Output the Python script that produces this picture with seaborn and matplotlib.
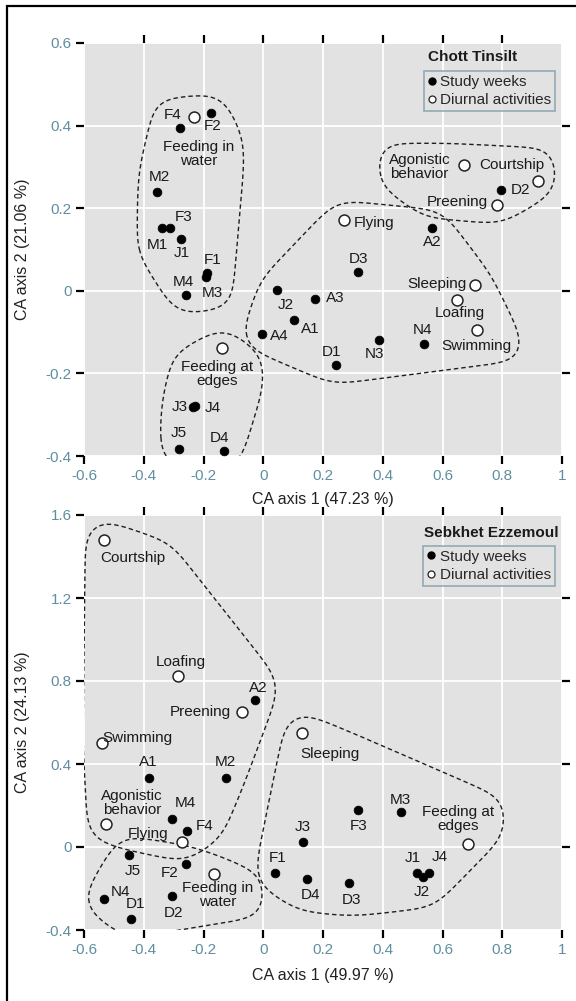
import numpy as np
import pandas as pd
import matplotlib
matplotlib.use("Agg")
import matplotlib.pyplot as plt
import seaborn as sns
from matplotlib.lines import Line2D
from matplotlib.patches import Rectangle

# ---------------- Data: Chott Tinsilt ----------------
ct_week_labels = ["F4", "F2", "M2", "M1", "F3", "J1", "F1", "M3", "M4", "J2", "A3", "A1",
                  "A4", "D3", "D1", "N3", "N4", "A2", "D2", "J3", "J4", "J5", "D4"]
ct_week_x = [-0.278, -0.176, -0.357, -0.340, -0.312, -0.274, -0.188, -0.192, -0.258, 0.045,
             0.174, 0.104, -0.005, 0.317, 0.242, 0.387, 0.539, 0.566, 0.795, -0.235, -0.229,
             -0.281, -0.131]
ct_week_y = [0.393, 0.430, 0.240, 0.153, 0.151, 0.126, 0.044, 0.034, -0.010, 0.002,
             -0.019, -0.071, -0.104, 0.046, -0.180, -0.118, -0.128, 0.151, 0.244, -0.282,
             -0.278, -0.382, -0.389]
ct_act_labels = ["Feeding in\nwater", "Agonistic\nbehavior", "Courtship", "Preening", "Flying",
                 "Sleeping", "Loafing", "Swimming", "Feeding at\nedges"]
ct_act_x = [-0.231, 0.673, 0.919, 0.783, 0.270, 0.709, 0.649, 0.717, -0.137]
ct_act_y = [0.420, 0.304, 0.266, 0.208, 0.172, 0.014, -0.023, -0.094, -0.139]
ct_groups = [
    ["F4", "F2", "Feeding in\nwater", "M2", "M1", "F3", "J1", "F1", "M3", "M4"],
    ["Agonistic\nbehavior", "Courtship", "D2", "Preening"],
    ["Flying", "A2", "D3", "J2", "A3", "A1", "A4", "D1", "N3", "N4", "Sleeping", "Loafing", "Swimming"],
    ["Feeding at\nedges", "J3", "J4", "J5", "D4"],
]

# ---------------- Data: Sebkhet Ezzemoul ----------------
se_week_labels = ["A2", "A1", "M2", "M4", "F4", "J5", "F2", "N4", "D2", "D1", "J3", "F1",
                  "D4", "D3", "F3", "M3", "J1", "J2", "J4"]
se_week_x = [-0.027, -0.383, -0.124, -0.304, -0.255, -0.448, -0.260, -0.534, -0.305, -0.444,
             0.134, 0.038, 0.145, 0.288, 0.317, 0.461, 0.513, 0.535, 0.556]
se_week_y = [0.708, 0.334, 0.334, 0.135, 0.079, -0.040, -0.084, -0.251, -0.236, -0.346,
             0.023, -0.127, -0.156, -0.172, 0.178, 0.170, -0.127, -0.143, -0.124]
se_act_labels = ["Courtship", "Loafing", "Preening", "Swimming", "Sleeping", "Agonistic\nbehavior",
                 "Flying", "Feeding in\nwater", "Feeding at\nedges"]
se_act_x = [-0.532, -0.284, -0.070, -0.540, 0.131, -0.526, -0.272, -0.166, 0.687]
se_act_y = [1.480, 0.824, 0.649, 0.500, 0.551, 0.109, 0.023, -0.130, 0.014]
se_groups = [
    ["Courtship", "Loafing", "A2", "Preening", "Swimming", "A1", "M2", "Agonistic\nbehavior",
     "M4", "F4", "Flying"],
    ["J5", "F2", "Feeding in\nwater", "N4", "D1", "D2"],
    ["Sleeping", "J3", "F1", "D4", "D3", "F3", "M3", "Feeding at\nedges", "J1", "J2", "J4"],
]

x_ticks = [-0.6, -0.4, -0.2, 0, 0.2, 0.4, 0.6, 0.8, 1.0]
ct_y_ticks = [-0.4, -0.2, 0, 0.2, 0.4, 0.6]
se_y_ticks = [-0.4, 0, 0.4, 0.8, 1.2, 1.6]

# label offsets in pixels (dx right, dy up) -- styling only
ct_offsets = {
    "F4": (-8, 13), "F2": (2, -13), "Feeding in\nwater": (4, -37), "M2": (3, 15),
    "M1": (-4, -17), "F3": (14, 11), "J1": (0, -14), "F1": (6, 13), "M3": (6, -16),
    "M4": (-3, 13), "J2": (9, -15), "A3": (20, 1), "A1": (16, -9), "A4": (18, -2),
    "D3": (1, 13), "D1": (-4, 13), "N3": (-4, -14), "N4": (-2, 14), "Sleeping": (-38, 1),
    "Loafing": (3, -13), "Swimming": (-1, -16), "Feeding at\nedges": (-5, -26),
    "J3": (-13, 0), "J4": (18, -2), "J5": (-1, 16), "D4": (-5, 13),
    "Agonistic\nbehavior": (-45, -2), "Courtship": (-26, 16), "D2": (20, 0),
    "Preening": (-40, 3), "Flying": (30, -3), "A2": (0, -14),
}
se_offsets = {
    "Courtship": (28, -18), "Loafing": (2, 14), "A2": (3, 12), "Preening": (-42, 0),
    "Swimming": (35, 5), "Sleeping": (28, -21), "A1": (-1, 16), "M2": (-1, 16),
    "Agonistic\nbehavior": (26, 21), "M4": (13, 16), "F4": (18, 5), "Flying": (-34, 8),
    "J5": (3, -16), "F2": (-16, -9), "Feeding in\nwater": (4, -21), "N4": (17, 7),
    "D2": (1, -17), "D1": (5, 15), "J3": (-1, 15), "F1": (3, 15), "D4": (4, -16),
    "D3": (2, -17), "F3": (1, -16), "M3": (-1, 12), "Feeding at\nedges": (-10, 25),
    "J1": (-4, 15), "J2": (-1, -15), "J4": (10, 16),
}

sns.set_style("darkgrid", {"axes.facecolor": "#e2e2e2", "grid.color": "white"})
plt.rcParams["font.family"] = ["Liberation Sans", "DejaVu Sans"]
plt.rcParams["axes.unicode_minus"] = False

TICKCOL = "#5f8ea0"
W, H = 576, 1001
fig = plt.figure(figsize=(W / 100, H / 100), dpi=100)
fig.patch.set_facecolor("white")
ax1 = fig.add_axes([84 / W, 1 - 456 / H, 478 / W, 413 / H])
ax2 = fig.add_axes([84 / W, 1 - 930 / H, 478 / W, 415 / H])


def fmt(v):
    s = f"{v:.1f}"
    if s.endswith(".0"):
        s = s[:-2]
    if s == "-0":
        s = "0"
    return s


def panel(ax, wl, wx, wy, al, axx, ay, yt, xlabel, ylabel, title, offsets, ylab_pos, xlab_pos, leg_anchor, title_pos):
    wk = pd.DataFrame({"x": wx, "y": wy, "label": wl})
    ac = pd.DataFrame({"x": axx, "y": ay, "label": al})
    sns.scatterplot(data=wk, x="x", y="y", ax=ax, color="black", edgecolor="black",
                    s=40, linewidth=0.5, zorder=5, legend=False)
    sns.scatterplot(data=ac, x="x", y="y", ax=ax, color="white", edgecolor="#222222",
                    s=62, linewidth=1.1, zorder=5, legend=False)
    ax.set_xlim(-0.6, 1.0)
    ax.set_ylim(yt[0], yt[-1])
    ax.set_xticks(x_ticks)
    ax.set_xticklabels([fmt(v) for v in x_ticks])
    ax.set_yticks(yt)
    ax.set_yticklabels([fmt(v) for v in yt])
    ax.grid(True, color="white", linewidth=1.3)
    for s in ax.spines.values():
        s.set_visible(False)
    ax.tick_params(axis="both", direction="out", length=6, width=1.6, color="black",
                   labelcolor=TICKCOL, labelsize=11, pad=3, bottom=True, left=True)
    sec_x = ax.secondary_xaxis("top")
    sec_x.set_xticks(x_ticks[1:-1])
    sec_x.set_xticklabels([])
    sec_x.tick_params(direction="out", length=6, width=1.6, color="black")
    sec_y = ax.secondary_yaxis("right")
    sec_y.set_yticks(yt[1:-1])
    sec_y.set_yticklabels([])
    sec_y.tick_params(direction="out", length=6, width=1.6, color="black")
    for sa in (sec_x, sec_y):
        for s in sa.spines.values():
            s.set_visible(False)
    ax.set_xlabel(xlabel, fontsize=11.5, color="#222222")
    ax.set_ylabel(ylabel, fontsize=11.5, color="#222222")
    ax.xaxis.set_label_coords(0.5, xlab_pos)
    ax.yaxis.set_label_coords(ylab_pos, 0.5)

    texts = {}
    pts = {}
    for df in (wk, ac):
        for _, r in df.iterrows():
            dx, dy = offsets.get(r["label"], (0, 12))
            t = ax.annotate(r["label"], (r["x"], r["y"]), xytext=(dx * 0.72, dy * 0.72),
                            textcoords="offset points", ha="center", va="center",
                            fontsize=11, color="#1a1a1a", linespacing=1.0, zorder=6)
            texts[r["label"]] = t
            pts[r["label"]] = (r["x"], r["y"])

    ax.text(title_pos[0], title_pos[1], title, transform=ax.transAxes, ha="center",
            va="center", fontsize=11, fontweight="bold", color="#1a1a1a", zorder=7)
    handles = [
        Line2D([0], [0], marker="o", ls="", markerfacecolor="black", markeredgecolor="black",
               markersize=5),
        Line2D([0], [0], marker="o", ls="", markerfacecolor="white", markeredgecolor="#222222",
               markersize=5, markeredgewidth=0.9),
    ]
    leg = ax.legend(handles, ["Study weeks", "Diurnal activities"], loc="upper right",
                    bbox_to_anchor=leg_anchor, fontsize=11, frameon=True, fancybox=False,
                    handlelength=0.6, handletextpad=0.25, borderpad=0.25, labelspacing=0.3,
                    borderaxespad=0)
    leg.get_frame().set_edgecolor("#7f9aa8")
    leg.get_frame().set_facecolor("#e2e2e2")
    leg.get_frame().set_linewidth(1.2)
    leg.set_zorder(8)
    return texts, pts


def convex_hull(points):
    P = sorted(set((round(p[0], 3), round(p[1], 3)) for p in points))

    def cross(o, a, b):
        return (a[0] - o[0]) * (b[1] - o[1]) - (a[1] - o[1]) * (b[0] - o[0])

    lower, upper = [], []
    for p in P:
        while len(lower) >= 2 and cross(lower[-2], lower[-1], p) <= 0:
            lower.pop()
        lower.append(p)
    for p in reversed(P):
        while len(upper) >= 2 and cross(upper[-2], upper[-1], p) <= 0:
            upper.pop()
        upper.append(p)
    return np.array(lower[:-1] + upper[:-1])


def smooth_closed(poly, step=1.5, sigma=14.0):
    closed = np.vstack([poly, poly[:1]])
    seg = np.hypot(*np.diff(closed, axis=0).T)
    cum = np.r_[0, np.cumsum(seg)]
    L = cum[-1]
    n = int(L / step)
    s = np.linspace(0, L, n, endpoint=False)
    x = np.interp(s, cum, closed[:, 0])
    y = np.interp(s, cum, closed[:, 1])
    k = np.arange(-int(3 * sigma / step), int(3 * sigma / step) + 1)
    w = np.exp(-0.5 * (k * step / sigma) ** 2)
    w /= w.sum()
    xs = np.zeros(n)
    ys = np.zeros(n)
    for kk, ww in zip(k, w):
        xs += ww * np.roll(x, kk)
        ys += ww * np.roll(y, kk)
    return np.c_[np.r_[xs, xs[:1]], np.r_[ys, ys[:1]]]


def outlines(ax, groups, texts, pts, rpt=19, rtxt=11):
    renderer = fig.canvas.get_renderer()
    th = np.linspace(0, 2 * np.pi, 48, endpoint=False)
    circ = np.c_[np.cos(th), np.sin(th)]
    for g in groups:
        cloud = []
        for name in g:
            c = ax.transData.transform(pts[name])
            cloud.append(c + rpt * circ)
            bb = texts[name].get_window_extent(renderer)
            corners = np.array([[bb.x0 + 1, bb.y0 + 2], [bb.x1 - 1, bb.y0 + 2],
                                [bb.x0 + 1, bb.y1 - 1], [bb.x1 - 1, bb.y1 - 1]])
            for cc in corners:
                cloud.append(cc + rtxt * circ)
        cloud = np.vstack(cloud)
        hull = convex_hull(cloud)
        curve = smooth_closed(hull)
        d = ax.transData.inverted().transform(curve)
        ax.plot(d[:, 0], d[:, 1], ls=(0, (3.2, 2.2)), lw=1.0, color="#1f1f1f", zorder=3)


t1, p1 = panel(ax1, ct_week_labels, ct_week_x, ct_week_y, ct_act_labels, ct_act_x, ct_act_y,
               ct_y_ticks, "CA axis 1 (47.23 %)", "CA axis 2 (21.06 %)", "Chott Tinsilt",
               ct_offsets, -0.112, -0.088, (0.986, 0.932), (0.812, 0.966))
t2, p2 = panel(ax2, se_week_labels, se_week_x, se_week_y, se_act_labels, se_act_x, se_act_y,
               se_y_ticks, "CA axis 1 (49.97 %)", "CA axis 2 (24.13 %)", "Sebkhet Ezzemoul",
               se_offsets, -0.112, -0.092, (0.985, 0.926), (0.853, 0.957))

fig.canvas.draw()
outlines(ax1, ct_groups, t1, p1)
outlines(ax2, se_groups, t2, p2)

fig.add_artist(Rectangle((7 / W, -0.01), 1.0, 1 - 6 / H + 0.01, transform=fig.transFigure,
                         fill=False, edgecolor="black", linewidth=1.6))

fig.savefig("out.png", dpi=100, facecolor="white")
